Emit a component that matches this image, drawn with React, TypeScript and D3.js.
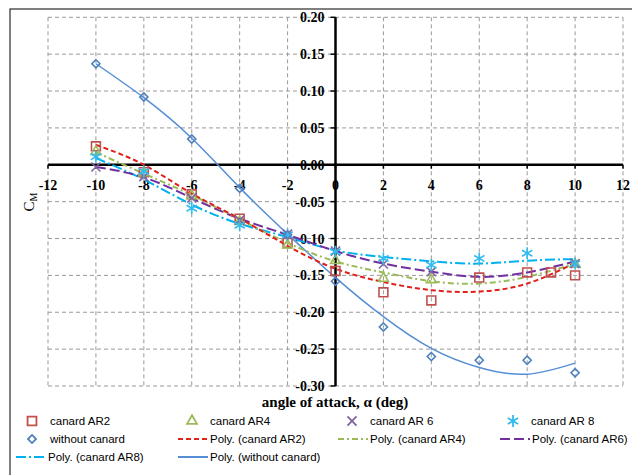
import React from "react";
import * as d3 from "d3";

// angle of attack (deg)
const alphas = [-10, -8, -6, -4, -2, 0, 2, 4, 6, 8, 10];
const alphasAR2 = [-10, -8, -6, -4, -2, 0, 2, 4, 6, 8, 9, 10];
const alphasAR4 = [-10, -8, -6, -4, -2, 0, 2, 4, 10];
const alphasAR6 = [-10, -8, -6, -4, -2, 0, 2, 4, 10];

// measured C_M
const cmAR2 = [0.025, -0.01, -0.04, -0.073, -0.106, -0.144, -0.173, -0.184, -0.153, -0.146, -0.146, -0.15];
const cmAR4 = [0.018, -0.011, -0.042, -0.077, -0.109, -0.13, -0.154, -0.156, -0.135];
const cmAR6 = [-0.003, -0.016, -0.045, -0.075, -0.094, -0.117, -0.1345, -0.145, -0.134];
const cmAR8 = [0.011, -0.009, -0.059, -0.082, -0.095, -0.118, -0.127, -0.136, -0.127, -0.12, -0.134];
const cmNone = [0.137, 0.092, 0.035, -0.032, -0.095, -0.158, -0.22, -0.26, -0.265, -0.265, -0.282];

// polynomial trendlines at each alpha
const polyAR2 = [0.027, 0.0, -0.039, -0.073, -0.11, -0.141, -0.159, -0.17, -0.172, -0.161, -0.133];
const polyAR4 = [0.017, -0.012, -0.041, -0.074, -0.106, -0.131, -0.146, -0.158, -0.161, -0.152, -0.134];
const polyAR6 = [-0.003, -0.017, -0.045, -0.073, -0.095, -0.117, -0.134, -0.145, -0.152, -0.146, -0.131];
const polyAR8 = [0.009, -0.02, -0.054, -0.08, -0.098, -0.116, -0.125, -0.131, -0.134, -0.13, -0.128];
const polyNone = [0.137, 0.091, 0.036, -0.031, -0.094, -0.153, -0.206, -0.249, -0.275, -0.284, -0.269];

const xTicks = [-12, -10, -8, -6, -4, -2, 0, 2, 4, 6, 8, 10, 12];
const yTicks = [0.2, 0.15, 0.1, 0.05, 0, -0.05, -0.1, -0.15, -0.2, -0.25, -0.3];

const serif = "'Liberation Serif', 'Times New Roman', serif";
const sans = "'Liberation Sans', Arial, sans-serif";

const x = d3.scaleLinear().domain([-12, 12]).range([48, 623]);
const y = d3.scaleLinear().domain([-0.3, 0.2]).range([386, 17.3]);

const zip = (xs: number[], ys: number[]) => xs.map((a, i) => [a, ys[i]] as [number, number]);

const trend = d3
  .line<[number, number]>()
  .x((d) => x(d[0]))
  .y((d) => y(d[1]))
  .curve(d3.curveNatural);

const sym = (type: d3.SymbolType, size: number) => d3.symbol().type(type).size(size)() as string;

const markerDefs = {
  AR2: { path: sym(d3.symbolSquare2, 100), color: "#C0504D" },
  AR4: { path: sym(d3.symbolTriangle2, 70), color: "#9BBB59" },
  AR6: { path: sym(d3.symbolX, 55), color: "#8064A2" },
  AR8: { path: sym(d3.symbolAsterisk, 100), color: "#33BBEE" },
  none: { path: sym(d3.symbolDiamond2, 42), color: "#4F81BD" },
};

const series = [
  { key: "AR2", xs: alphasAR2, ys: cmAR2 },
  { key: "AR4", xs: alphasAR4, ys: cmAR4 },
  { key: "AR6", xs: alphasAR6, ys: cmAR6 },
  { key: "AR8", xs: alphas, ys: cmAR8 },
  { key: "none", xs: alphas, ys: cmNone },
];

const trends = [
  { ys: polyNone, color: "#558ED5", dash: "none", w: 1.5 },
  { ys: polyAR8, color: "#00B0F0", dash: "10,3,2,3", w: 2 },
  { ys: polyAR6, color: "#7030A0", dash: "10,4", w: 2 },
  { ys: polyAR4, color: "#9BBB59", dash: "6,3,2,3", w: 2 },
  { ys: polyAR2, color: "#E0201B", dash: "5,3", w: 2 },
];

export default function App() {
  const legend = [
    { kind: "m", key: "AR2", label: "canard AR2", lx: 32, ty: 421 },
    { kind: "m", key: "AR4", label: "canard AR4", lx: 192, ty: 421 },
    { kind: "m", key: "AR6", label: "canard AR 6", lx: 352, ty: 421 },
    { kind: "m", key: "AR8", label: "canard AR 8", lx: 513, ty: 421 },
    { kind: "m", key: "none", label: "without canard", lx: 32, ty: 439 },
    { kind: "l", t: 4, label: "Poly. (canard AR2)", lx: 178, ty: 439 },
    { kind: "l", t: 3, label: "Poly. (canard AR4)", lx: 338, ty: 439 },
    { kind: "l", t: 2, label: "Poly. (canard AR6)", lx: 500, ty: 439 },
    { kind: "l", t: 1, label: "Poly. (canard AR8)", lx: 16, ty: 457 },
    { kind: "l", t: 0, label: "Poly. (without canard)", lx: 178, ty: 457 },
  ];

  return (
    <svg
      width={632}
      height={475}
      style={{ position: "absolute", left: 0, top: 0, background: "#fff" }}
    >
      <rect x={10} y={9} width={700} height={600} fill="#fff" stroke="#000" strokeWidth={1} />

      {/* grid */}
      {xTicks.map((t) => (
        <line key={"gx" + t} x1={x(t)} x2={x(t)} y1={y(0.2)} y2={y(-0.3)} stroke="#999" strokeDasharray="4,3" />
      ))}
      {yTicks.map((t) => (
        <line key={"gy" + t} x1={x(-12)} x2={x(12)} y1={y(t)} y2={y(t)} stroke="#999" strokeDasharray="4,3" />
      ))}

      {/* axes */}
      <line x1={x(-12)} x2={x(12)} y1={y(0)} y2={y(0)} stroke="#000" strokeWidth={2.5} />
      <line x1={x(0)} x2={x(0)} y1={y(0.2)} y2={y(-0.3)} stroke="#000" strokeWidth={2.5} />
      {xTicks.map((t) => (
        <line key={"tx" + t} x1={x(t)} x2={x(t)} y1={y(0)} y2={y(0) + 4} stroke="#000" strokeWidth={1.5} />
      ))}
      {yTicks.map((t) => (
        <line key={"ty" + t} x1={x(0) - 5} x2={x(0)} y1={y(t)} y2={y(t)} stroke="#000" strokeWidth={1.5} />
      ))}
      {xTicks.map((t) => (
        <text key={"lx" + t} x={x(t)} y={y(0) + 25} textAnchor="middle" fontFamily={serif} fontWeight="bold" fontSize={14}>
          {String(t)}
        </text>
      ))}
      {yTicks.map((t) => (
        <text key={"ly" + t} x={x(0) - 11} y={y(t) + 5} textAnchor="end" fontFamily={serif} fontWeight="bold" fontSize={14}>
          {t.toFixed(2)}
        </text>
      ))}

      {/* trendlines */}
      {trends.map((s, i) => (
        <path
          key={"tr" + i}
          d={trend(zip(alphas, s.ys)) as string}
          fill="none"
          stroke={s.color}
          strokeWidth={s.w}
          strokeDasharray={s.dash}
        />
      ))}

      {/* markers */}
      {series.map((s) => {
        const m = (markerDefs as any)[s.key];
        return s.xs.map((a, i) => (
          <path
            key={s.key + i}
            d={m.path}
            transform={`translate(${x(a)},${y(s.ys[i])})`}
            fill="none"
            stroke={m.color}
            strokeWidth={1.6}
          />
        ));
      })}

      {/* axis titles */}
      <text x={335} y={407} textAnchor="middle" fontFamily={serif} fontWeight="bold" fontSize={15}>
        angle of attack, α (deg)
      </text>
      <text transform="translate(34,202) rotate(-90)" textAnchor="middle" fontFamily={serif} fontSize={15}>
        C<tspan fontSize={10} dy={3}>M</tspan>
      </text>

      {/* legend */}
      {legend.map((l, i) => {
        if (l.kind === "m") {
          const m = (markerDefs as any)[l.key as string];
          return (
            <g key={"lg" + i}>
              <path d={m.path} transform={`translate(${l.lx},${l.ty})`} fill="none" stroke={m.color} strokeWidth={1.8} />
              <text x={l.lx + 18} y={l.ty + 4} fontFamily={sans} fontSize={11.5}>
                {l.label}
              </text>
            </g>
          );
        }
        const s = trends[l.t as number];
        return (
          <g key={"lg" + i}>
            <line x1={l.lx} x2={l.lx + 30} y1={l.ty} y2={l.ty} stroke={s.color} strokeWidth={2} strokeDasharray={s.dash} />
            <text x={l.lx + 32} y={l.ty + 4} fontFamily={sans} fontSize={11.5}>
              {l.label}
            </text>
          </g>
        );
      })}
    </svg>
  );
}
